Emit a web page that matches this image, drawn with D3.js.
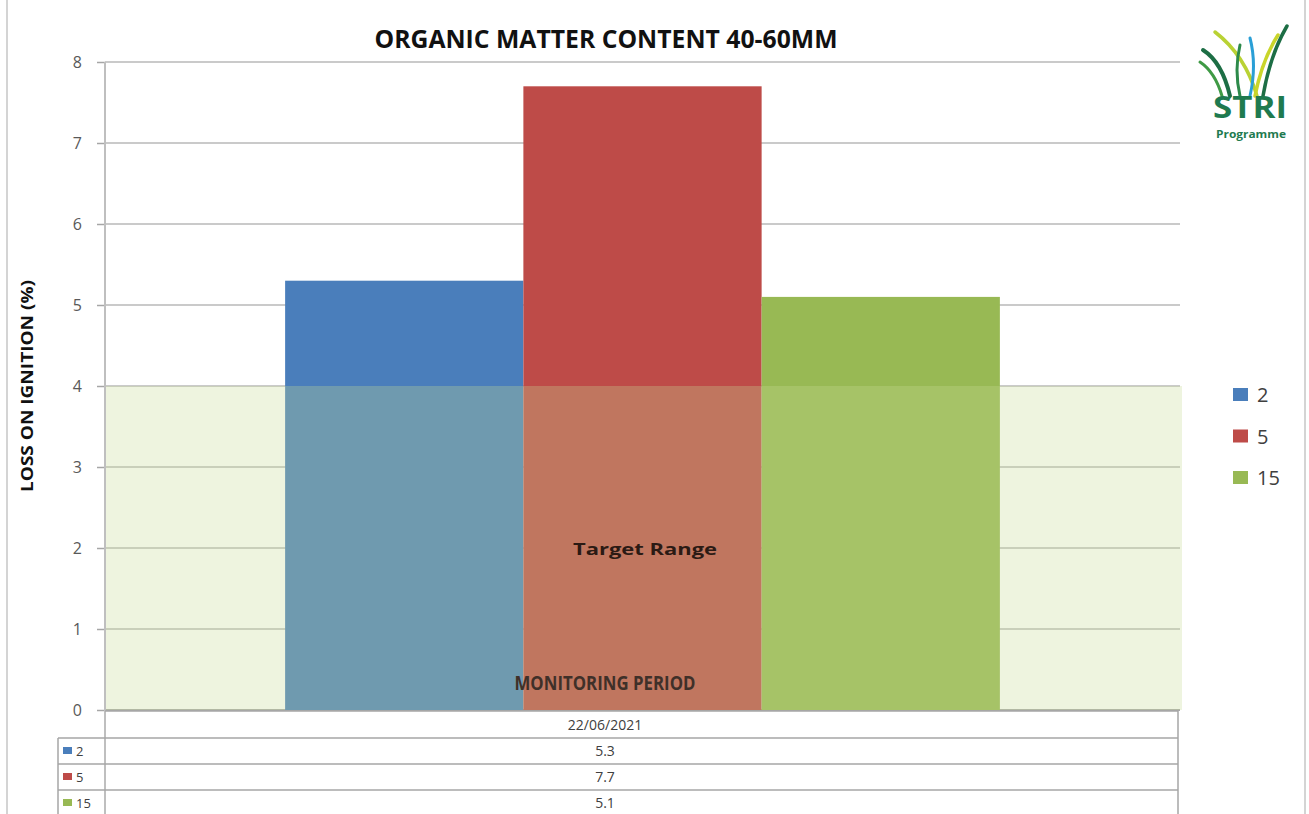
<!DOCTYPE html>
<html><head><meta charset="utf-8">
<script src="https://cdn.jsdelivr.net/npm/d3@7"></script>
<style>
html,body{margin:0;padding:0;background:#fff;}
svg{display:block;font-family:"Open Sans","Noto Sans",sans-serif;}
</style></head>
<body><svg id="c" width="1309" height="814"></svg>
<script>
const categories = ["22/06/2021"];
const seriesNames = ["2", "5", "15"];
const seriesValues = [[5.3], [7.7], [5.1]];
const seriesColors = ["#4A7EBB", "#BE4B48", "#98B954"];
const yTicks = [0, 1, 2, 3, 4, 5, 6, 7, 8];
const targetRange = [0, 4];

const svg = d3.select("#c");
const W = 1309, H = 814;
const plot = {left: 105, right: 1180, top: 62, bottom: 710};

// outer frame
svg.append("line").attr("x1",7).attr("x2",7).attr("y1",0).attr("y2",H).attr("stroke","#d4d4d4").attr("stroke-width",2);
svg.append("line").attr("x1",1305).attr("x2",1305).attr("y1",0).attr("y2",H).attr("stroke","#d4d4d4").attr("stroke-width",2);

const y = d3.scaleLinear().domain([0, 8]).range([plot.bottom, plot.top]);
const x0 = d3.scaleBand().domain(categories).range([plot.left, plot.right]).paddingInner(0).paddingOuter(0.252);
const x1 = d3.scaleBand().domain(seriesNames).range([0, x0.bandwidth()]).padding(0);

// gridlines + ticks
const yAxis = d3.axisLeft(y).tickValues(yTicks).tickSize(8).tickPadding(15).tickFormat(d3.format("d"));
const gAxis = svg.append("g").attr("transform", `translate(${plot.left},0)`).call(yAxis);
gAxis.select(".domain").remove();
gAxis.selectAll(".tick line").attr("stroke", "#a6a6a6").attr("stroke-width", 1.5);
gAxis.selectAll(".tick text").attr("fill", "#595959").style("font-size", "16px").style("font-family", "'Open Sans',sans-serif");

svg.append("g").selectAll("line").data(yTicks).join("line")
  .attr("x1", plot.left).attr("x2", plot.right)
  .attr("y1", d => y(d)).attr("y2", d => y(d))
  .attr("stroke", d => d === 0 ? "#8c8c8c" : "#b8b8b8").attr("stroke-width", 1.5);

// bars
const bars = [];
categories.forEach((c, ci) => seriesNames.forEach((s, si) => bars.push({c, s, v: seriesValues[si][ci], color: seriesColors[si]})));
svg.append("g").selectAll("rect").data(bars).join("rect")
  .attr("x", d => x0(d.c) + x1(d.s))
  .attr("width", x1.bandwidth())
  .attr("y", d => y(d.v))
  .attr("height", d => y(0) - y(d.v))
  .attr("fill", d => d.color);

// target range overlay
svg.append("rect")
  .attr("x", plot.left).attr("width", plot.right + 2 - plot.left)
  .attr("y", y(targetRange[1])).attr("height", y(targetRange[0]) - y(targetRange[1]))
  .attr("fill", "rgb(200,219,150)").attr("fill-opacity", 0.3);

svg.append("text").attr("x", 645).attr("y", 555).attr("text-anchor", "middle")
  .attr("fill", "#2b1a14").style("font-size", "16px").style("font-weight", "bold")
  .attr("textLength", 144).attr("lengthAdjust", "spacingAndGlyphs")
  .text("Target Range");

// x axis title
svg.append("text").attr("x", 605).attr("y", 690).attr("text-anchor", "middle")
  .attr("fill", "#3f3029").style("font-size", "19px").style("font-weight", "bold")
  .attr("textLength", 181).attr("lengthAdjust", "spacingAndGlyphs")
  .text("MONITORING PERIOD");

// y axis line
svg.append("line").attr("x1", plot.left).attr("x2", plot.left).attr("y1", plot.top).attr("y2", H)
  .attr("stroke", "#bfbfbf").attr("stroke-width", 2);

// title
svg.append("text").attr("x", 606).attr("y", 48).attr("text-anchor", "middle")
  .attr("fill", "#111").style("font-size", "25px").style("font-weight", "bold")
  .attr("textLength", 463).attr("lengthAdjust", "spacingAndGlyphs")
  .text("ORGANIC MATTER CONTENT 40-60MM");

// y axis title
svg.append("text").attr("transform", "translate(33,386) rotate(-90)").attr("text-anchor", "middle")
  .attr("fill", "#111").style("font-size", "16px").style("font-weight", "bold")
  .attr("textLength", 212).attr("lengthAdjust", "spacingAndGlyphs")
  .text("LOSS ON IGNITION (%)");

// legend
const leg = svg.append("g").selectAll("g").data(seriesNames).join("g")
  .attr("transform", (d, i) => `translate(1233,${395 + i * 41.5})`);
leg.append("rect").attr("x", 0).attr("y", -7).attr("width", 15).attr("height", 13).attr("fill", (d, i) => seriesColors[i]);
leg.append("text").attr("x", 24).attr("y", 7).attr("fill", "#404040").style("font-size", "20px").text(d => d);

// data table
const tbl = svg.append("g");
const rowTops = [711, 738, 764, 790, 816];
const textCx = 605;
tbl.append("line").attr("x1", plot.left).attr("x2", 1178).attr("y1", rowTops[0]).attr("y2", rowTops[0]).attr("stroke", "#a6a6a6").attr("stroke-width", 1.5);
[1, 2, 3].forEach(i => tbl.append("line").attr("x1", 58).attr("x2", 1178).attr("y1", rowTops[i]).attr("y2", rowTops[i]).attr("stroke", "#a6a6a6").attr("stroke-width", 1.5));
tbl.append("line").attr("x1", 1178).attr("x2", 1178).attr("y1", rowTops[0]).attr("y2", H).attr("stroke", "#a6a6a6").attr("stroke-width", 1.5);
tbl.append("line").attr("x1", 58).attr("x2", 58).attr("y1", rowTops[1]).attr("y2", H).attr("stroke", "#a6a6a6").attr("stroke-width", 1.5);

tbl.append("text").attr("x", textCx).attr("y", 730).attr("text-anchor", "middle")
  .attr("fill", "#404040").style("font-size", "14px").text(categories[0]);

const rows = tbl.selectAll("g.row").data(seriesNames).join("g").attr("class", "row")
  .attr("transform", (d, i) => `translate(0,${(rowTops[i + 1] + rowTops[i + 2]) / 2})`);
rows.append("rect").attr("x", 63).attr("y", -4).attr("width", 9).attr("height", 7).attr("fill", (d, i) => seriesColors[i]);
rows.append("text").attr("x", 76).attr("y", 5).attr("fill", "#404040").style("font-size", "13px").text(d => d);
rows.append("text").attr("x", textCx).attr("y", 5).attr("text-anchor", "middle").attr("fill", "#404040").style("font-size", "14px")
  .text((d, i) => seriesValues[i][0]);

// STRI logo
const logo = svg.append("g");
const blades = [
  {d: "M1203,50 Q1222,62 1230,96", c: "#1d6e45", w: 4},
  {d: "M1200,62 Q1215,72 1222,96", c: "#3f9a45", w: 3},
  {d: "M1215,32 Q1245,55 1257,96", c: "#b9d234", w: 3.5},
  {d: "M1240,45 Q1234,70 1240,96", c: "#2d8a4a", w: 3},
  {d: "M1250,38 Q1257,65 1250,96", c: "#2a9fd6", w: 3},
  {d: "M1278,35 Q1262,60 1255,96", c: "#c9d52a", w: 3.5},
  {d: "M1287,26 Q1270,55 1263,96", c: "#1d6e45", w: 3.5}
];
logo.selectAll("path").data(blades).join("path").attr("d", d => d.d).attr("fill", "none")
  .attr("stroke", d => d.c).attr("stroke-width", d => d.w).attr("stroke-linecap", "round");
logo.append("text").attr("x", 1250).attr("y", 118).attr("text-anchor", "middle")
  .attr("fill", "#1f7a4f").style("font-size", "30px").style("font-weight", "bold")
  .attr("textLength", 74).attr("lengthAdjust", "spacingAndGlyphs").text("STRI");
logo.append("text").attr("x", 1251).attr("y", 138).attr("text-anchor", "middle")
  .attr("fill", "#1f7a4f").style("font-size", "10px").style("font-weight", "bold")
  .attr("textLength", 70).attr("lengthAdjust", "spacingAndGlyphs").text("Programme");
</script></body></html>
